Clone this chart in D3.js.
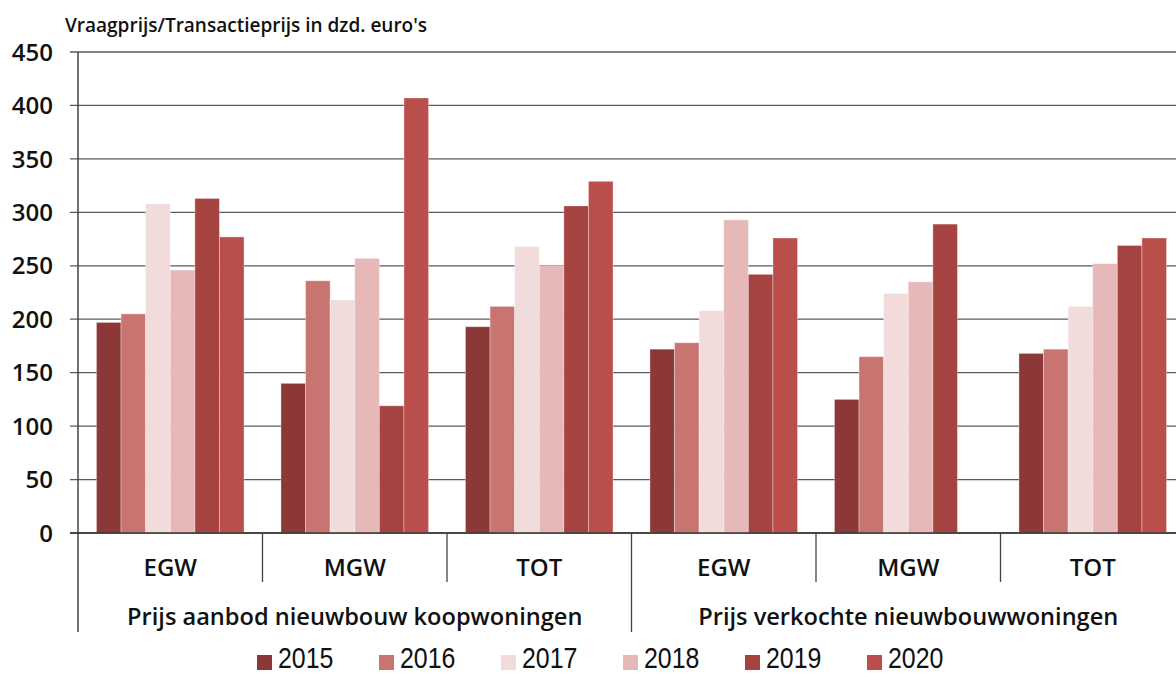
<!DOCTYPE html>
<html>
<head>
<meta charset="utf-8">
<script src="https://cdn.jsdelivr.net/npm/d3@7"></script>
<style>
    body { margin: 0; background: #fff; }
    svg { display: block; font-family: "Open Sans", sans-serif; }
    .tickLabel { font-size: 24px; font-weight: 600; fill: #111; }
    .catLabel { font-size: 24px; font-weight: 600; fill: #111; }
    .groupLabel { font-size: 23.6px; font-weight: 600; fill: #111; }
    .legendLabel { font-family: "Liberation Sans Narrow", "Liberation Sans", sans-serif; font-size: 29px; fill: #111; }
</style>
</head>
<body>
<svg id="chart"></svg>
<script>
const width = 1176;
const height = 674;

// data (dzd. euro's)
const years = ["2015", "2016", "2017", "2018", "2019", "2020"];
const groups = ["Prijs aanbod nieuwbouw koopwoningen", "Prijs verkochte nieuwbouwwoningen"];
const types = ["EGW", "MGW", "TOT"];
const aanbod_EGW = [197, 205, 308, 246, 313, 277];
const aanbod_MGW = [140, 236, 218, 257, 119, 407];
const aanbod_TOT = [193, 212, 268, 250, 306, 329];
const verkocht_EGW = [172, 178, 208, 293, 242, 276];
const verkocht_MGW = [125, 165, 224, 235, 289, null];
const verkocht_TOT = [168, 172, 212, 252, 269, 276];
const yTicks = [0, 50, 100, 150, 200, 250, 300, 350, 400, 450];
const colors = ["#8c3838", "#c87471", "#f1dbdb", "#e6b8b7", "#a54341", "#b94e4b"];

const categories = [
    { group: groups[0], type: types[0], values: aanbod_EGW },
    { group: groups[0], type: types[1], values: aanbod_MGW },
    { group: groups[0], type: types[2], values: aanbod_TOT },
    { group: groups[1], type: types[0], values: verkocht_EGW },
    { group: groups[1], type: types[1], values: verkocht_MGW },
    { group: groups[1], type: types[2], values: verkocht_TOT }
];
categories.forEach((c, i) => c.key = "c" + i);

const plotLeft = 78;
const plotRight = 1185;   // the last group runs off the picture
const plotTop = 52;
const plotBottom = 533;

const svg = d3.select("#chart").attr("width", width).attr("height", height);

const x0 = d3.scaleBand()
    .domain(categories.map(d => d.key))
    .range([plotLeft, plotRight]);

const x1 = d3.scaleBand()
    .domain(years)
    .range([0, x0.bandwidth()])
    .paddingInner(0)
    .paddingOuter(0.75);

const y = d3.scaleLinear()
    .domain([0, 450])
    .range([plotBottom, plotTop]);

// gridlines
svg.append("g")
    .selectAll("line")
    .data(yTicks)
    .join("line")
    .attr("x1", plotLeft - 8)
    .attr("x2", width)
    .attr("y1", d => y(d))
    .attr("y2", d => y(d))
    .style("stroke", "#5a5a5a")
    .style("stroke-width", "1.3");

// y tick labels
svg.append("g")
    .selectAll("text")
    .data(yTicks)
    .join("text")
    .attr("class", "tickLabel")
    .attr("x", 53)
    .attr("y", d => y(d))
    .attr("dy", "0.36em")
    .attr("text-anchor", "end")
    .text(d => d);

// bars
const barGroups = svg.append("g")
    .selectAll("g")
    .data(categories)
    .join("g")
    .attr("transform", d => `translate(${x0(d.key)},0)`);

barGroups.selectAll("rect")
    .data(d => d.values.map((v, i) => ({ year: years[i], value: v, color: colors[i] })).filter(b => b.value != null))
    .join("rect")
    .attr("x", d => x1(d.year))
    .attr("width", x1.bandwidth())
    .attr("y", d => y(d.value))
    .attr("height", d => y(0) - y(d.value))
    .attr("fill", d => d.color)
    .style("stroke", "rgba(255,255,255,0.35)")
    .style("stroke-width", "1");

// axes lines
svg.append("line")
    .attr("x1", plotLeft).attr("x2", plotLeft)
    .attr("y1", plotTop).attr("y2", 632)
    .style("stroke", "#444").style("stroke-width", "1.5");

svg.append("line")
    .attr("x1", plotLeft - 8).attr("x2", width)
    .attr("y1", plotBottom).attr("y2", plotBottom)
    .style("stroke", "#333").style("stroke-width", "1.5");

// category dividers
const boundaries = categories.slice(1).map(d => x0(d.key));
svg.append("g")
    .selectAll("line")
    .data(boundaries)
    .join("line")
    .attr("x1", d => d).attr("x2", d => d)
    .attr("y1", plotBottom)
    .attr("y2", (d, i) => i === 2 ? 632 : 582)
    .style("stroke", "#444")
    .style("stroke-width", "1.3");

// type labels
svg.append("g")
    .selectAll("text")
    .data(categories)
    .join("text")
    .attr("class", "catLabel")
    .attr("x", d => x0(d.key) + x0.bandwidth() / 2)
    .attr("y", 576)
    .attr("text-anchor", "middle")
    .text(d => d.type);

// group labels
svg.append("g")
    .selectAll("text")
    .data(groups)
    .join("text")
    .attr("class", "groupLabel")
    .attr("x", (d, i) => plotLeft + x0.bandwidth() * 3 * i + x0.bandwidth() * 1.5)
    .attr("y", 625)
    .attr("text-anchor", "middle")
    .text(d => d);

// axis title
svg.append("text")
    .attr("x", 65)
    .attr("y", 32)
    .style("font-size", "19px")
    .style("font-weight", "600")
    .style("fill", "#111")
    .text("Vraagprijs/Transactieprijs in dzd. euro's");

// legend
const legend = svg.append("g")
    .selectAll("g")
    .data(years)
    .join("g")
    .attr("transform", (d, i) => `translate(${257 + i * 122},655)`);

legend.append("rect")
    .attr("width", 15)
    .attr("height", 15)
    .attr("fill", (d, i) => colors[i]);

// narrow face: squeeze Liberation Sans horizontally
legend.append("text")
    .attr("class", "legendLabel")
    .attr("transform", "translate(21,13) scale(0.86,1)")
    .text(d => d);
</script>
</body>
</html>
